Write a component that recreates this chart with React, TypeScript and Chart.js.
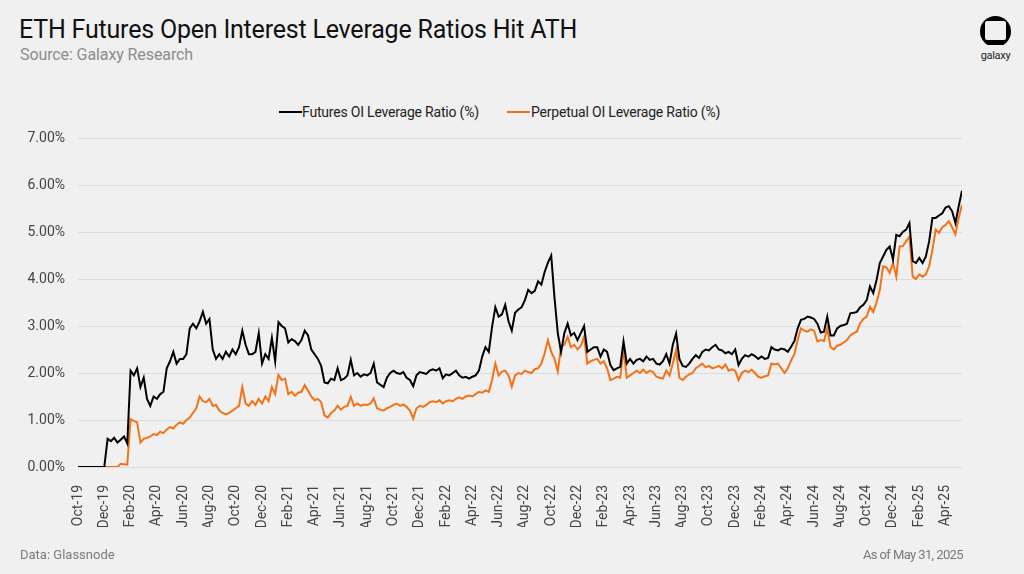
import React, { useEffect, useRef } from "react";
import { Chart, registerables } from "chart.js";

Chart.register(...registerables);

// x positions are months since Oct 1, 2019; one sample every quarter month (~weekly)
const SAMPLE_STEP_MONTHS = 0.25;
const TICK_STEP_MONTHS = 2;

const TICK_LABELS = [
  "Oct-19", "Dec-19", "Feb-20", "Apr-20", "Jun-20", "Aug-20", "Oct-20", "Dec-20",
  "Feb-21", "Apr-21", "Jun-21", "Aug-21", "Oct-21", "Dec-21", "Feb-22", "Apr-22",
  "Jun-22", "Aug-22", "Oct-22", "Dec-22", "Feb-23", "Apr-23", "Jun-23", "Aug-23",
  "Oct-23", "Dec-23", "Feb-24", "Apr-24", "Jun-24", "Aug-24", "Oct-24", "Dec-24",
  "Feb-25", "Apr-25",
];

const Y_TICKS = [0, 1, 2, 3, 4, 5, 6, 7];

const SERIES_NAMES = ["Futures OI Leverage Ratio (%)", "Perpetual OI Leverage Ratio (%)"];

// Futures OI leverage ratio (%), one row per month starting Oct-19
const FUTURES = [
  0, 0, 0, 0,
  0, 0, 0, 0,
  0, 0.6, 0.55, 0.62,
  0.52, 0.58, 0.65, 0.5,
  2.05, 1.95, 2.1, 1.7,
  1.9, 1.45, 1.3, 1.5,
  1.45, 1.55, 1.6, 2.1,
  2.25, 2.45, 2.2, 2.3,
  2.3, 2.4, 2.95, 3.05,
  2.95, 3.1, 3.3, 3.05,
  3.15, 2.5, 2.3, 2.4,
  2.3, 2.45, 2.35, 2.5,
  2.4, 2.55, 2.9, 2.6,
  2.4, 2.4, 2.45, 2.85,
  2.2, 2.4, 2.3, 2.75,
  2.25, 3.08, 3.0, 2.95,
  2.65, 2.72, 2.68, 2.6,
  2.7, 2.9, 2.8, 2.5,
  2.4, 2.3, 2.15, 1.8,
  1.78, 1.88, 1.85, 2.1,
  1.85, 1.88, 1.95, 2.28,
  1.95, 2.0, 1.92, 1.97,
  1.95, 2.0, 2.2, 1.8,
  1.75, 1.7, 1.9, 2.0,
  2.05, 2.0, 1.98, 2.02,
  1.9, 1.85, 1.72, 1.95,
  2.02, 2.0, 1.98, 2.05,
  2.08, 2.05, 2.1, 1.89,
  1.97, 1.95, 2.0, 2.05,
  1.95, 1.9, 1.92, 1.88,
  1.92, 1.95, 2.05, 2.35,
  2.55, 2.45, 2.98, 3.4,
  3.2, 3.25, 3.45, 3.1,
  2.9, 3.28, 3.35, 3.4,
  3.55, 3.77, 3.7, 3.75,
  3.95, 3.88, 4.15, 4.35,
  4.5, 3.6, 2.85, 2.45,
  2.85, 3.05, 2.8, 2.85,
  2.7, 2.85, 3.0, 2.45,
  2.5, 2.55, 2.55, 2.35,
  2.5, 2.45, 2.17, 2.06,
  2.1, 2.13, 2.67, 2.2,
  2.3, 2.2, 2.28, 2.3,
  2.25, 2.35, 2.28, 2.3,
  2.2, 2.18, 2.25, 2.4,
  2.2, 2.6, 2.84, 2.3,
  2.15, 2.13, 2.2, 2.3,
  2.38, 2.32, 2.45, 2.5,
  2.48, 2.55, 2.6, 2.5,
  2.48, 2.42, 2.45, 2.4,
  2.5, 2.17, 2.3, 2.38,
  2.35, 2.4, 2.36, 2.3,
  2.35, 2.3, 2.32, 2.55,
  2.5, 2.48, 2.52, 2.5,
  2.45, 2.56, 2.68, 2.95,
  3.13, 3.15, 3.2, 3.18,
  3.15, 3.05, 2.86, 2.88,
  3.2, 2.8, 2.8, 2.95,
  3.0, 3.02, 3.05, 3.27,
  3.28, 3.3, 3.4, 3.45,
  3.55, 3.84, 3.7, 3.98,
  4.34, 4.48, 4.62, 4.69,
  4.41, 4.94, 4.91, 5.0,
  5.05, 5.19, 4.38, 4.34,
  4.45, 4.34, 4.48, 4.8,
  5.3, 5.3, 5.35, 5.4,
  5.52, 5.55, 5.44, 5.19,
  5.55, 5.88,
];

// Perpetual OI leverage ratio (%), one row per month starting Oct-19
const PERPETUAL = [
  0, 0, 0, 0,
  0, 0, 0, 0,
  0, 0, 0, 0,
  0, 0.07, 0.06, 0.05,
  1.02, 0.98, 0.95, 0.52,
  0.6, 0.62, 0.65, 0.7,
  0.68, 0.75, 0.72, 0.8,
  0.85, 0.82, 0.9, 0.95,
  0.92, 1.0, 1.05, 1.15,
  1.25, 1.5, 1.4, 1.38,
  1.45, 1.3, 1.32, 1.2,
  1.15, 1.12, 1.15, 1.2,
  1.25, 1.3, 1.7, 1.35,
  1.3, 1.4, 1.32, 1.45,
  1.35, 1.5, 1.4, 1.7,
  1.55, 1.96, 1.85, 1.88,
  1.55, 1.6, 1.52, 1.58,
  1.6, 1.74, 1.62, 1.5,
  1.42, 1.45, 1.38, 1.1,
  1.05, 1.15, 1.2, 1.3,
  1.22, 1.28, 1.3, 1.49,
  1.3, 1.35, 1.3, 1.33,
  1.32, 1.35, 1.46, 1.25,
  1.22, 1.2, 1.25, 1.28,
  1.32, 1.35, 1.3, 1.33,
  1.28, 1.2, 1.03, 1.25,
  1.3, 1.28, 1.32, 1.38,
  1.4, 1.38, 1.42, 1.35,
  1.4, 1.42, 1.4, 1.45,
  1.48, 1.45, 1.5, 1.52,
  1.5, 1.55, 1.6, 1.58,
  1.63, 1.6, 1.85, 2.2,
  1.95, 2.03, 2.05, 1.95,
  1.71, 1.95, 2.0, 1.98,
  2.05, 2.02, 2.0, 2.08,
  2.1, 2.2, 2.42, 2.7,
  2.45, 2.3, 2.03, 2.56,
  2.6, 2.77, 2.55, 2.6,
  2.5, 2.58, 2.77, 2.2,
  2.25, 2.28, 2.3, 2.2,
  2.25, 2.1, 1.85, 1.88,
  1.92, 1.9, 2.49, 1.9,
  1.95, 2.0, 2.05, 2.0,
  2.07, 2.0, 2.05, 2.02,
  1.92, 1.9, 1.88, 2.05,
  1.95, 2.2, 2.49, 1.9,
  1.85, 1.92, 1.97, 2.0,
  2.1, 2.15, 2.2, 2.12,
  2.15, 2.1, 2.12, 2.15,
  2.1, 2.18, 2.05, 2.08,
  2.05, 1.85, 2.0, 2.05,
  2.02, 2.07, 2.0, 1.92,
  1.9, 1.93, 1.95, 2.2,
  2.18, 2.2, 2.1, 2.0,
  2.1, 2.27, 2.4, 2.7,
  2.95, 2.9, 2.88, 2.93,
  2.9, 2.67, 2.7, 2.68,
  2.95, 2.55, 2.5, 2.58,
  2.6, 2.65, 2.7, 2.8,
  2.85, 2.88, 3.06, 3.15,
  3.2, 3.41, 3.3, 3.5,
  3.77, 4.27, 4.25, 4.13,
  4.34, 4.05, 4.69, 4.7,
  4.8, 4.9, 4.05, 4.0,
  4.1, 4.05, 4.1, 4.27,
  4.62, 5.05, 4.98, 5.1,
  5.15, 5.23, 5.1, 4.95,
  5.3, 5.58,
];

const BLACK = "#000000";
const ORANGE = "#F47216";
const BG = "#F0F0F0";
const FONT = "Roboto, 'Noto Sans', sans-serif";

function toPoints(values: number[]) {
  return values.map((v, i) => ({ x: i * SAMPLE_STEP_MONTHS, y: v }));
}

export default function App() {
  const canvasRef = useRef<HTMLCanvasElement | null>(null);

  useEffect(() => {
    const canvas = canvasRef.current;
    if (!canvas) return;
    const chart = new Chart(canvas, {
      type: "line",
      data: {
        datasets: [
          {
            label: SERIES_NAMES[0],
            data: toPoints(FUTURES),
            borderColor: BLACK,
            backgroundColor: BLACK,
            borderWidth: 2,
            pointRadius: 0,
            tension: 0,
          },
          {
            label: SERIES_NAMES[1],
            data: toPoints(PERPETUAL),
            borderColor: ORANGE,
            backgroundColor: ORANGE,
            borderWidth: 2,
            pointRadius: 0,
            tension: 0,
          },
        ],
      },
      options: {
        animation: false,
        responsive: false,
        maintainAspectRatio: false,
        layout: { padding: { top: 138, right: 62, bottom: 47, left: 0 } },
        plugins: { legend: { display: false }, tooltip: { enabled: false } },
        scales: {
          x: {
            type: "linear",
            min: 0,
            max: (FUTURES.length - 1) * SAMPLE_STEP_MONTHS,
            afterBuildTicks: (s: any) => {
              s.ticks = TICK_LABELS.map((_, i) => ({ value: i * TICK_STEP_MONTHS }));
            },
            afterFit: (s: any) => {
              s.height = 60;
            },
            grid: { display: false },
            border: { display: false },
            ticks: {
              autoSkip: false,
              minRotation: 90,
              maxRotation: 90,
              padding: 10,
              color: "#444444",
              font: { size: 14, family: FONT },
              callback: (_v: any, i: number) => TICK_LABELS[i] ?? "",
            },
          },
          y: {
            type: "linear",
            min: 0,
            max: 7,
            afterBuildTicks: (s: any) => {
              s.ticks = Y_TICKS.map((v) => ({ value: v }));
            },
            afterFit: (s: any) => {
              s.width = 78;
            },
            grid: { color: "#DCDCDC", lineWidth: 1, drawTicks: false },
            border: { display: false },
            ticks: {
              padding: 13,
              color: "#444444",
              font: { size: 14, family: FONT },
              callback: (v: any) => Number(v).toFixed(2) + "%",
            },
          },
        },
      },
    });
    return () => chart.destroy();
  }, []);

  const text = (style: React.CSSProperties, content: string) => (
    <div style={{ position: "absolute", whiteSpace: "nowrap", fontFamily: FONT, ...style }}>{content}</div>
  );

  return (
    <div
      style={{
        position: "fixed",
        left: 0,
        top: 0,
        width: 1024,
        height: 574,
        background: BG,
        overflow: "hidden",
      }}
    >
      {text(
        { left: 19, top: 17, fontSize: 25, lineHeight: "25px", color: "#111", letterSpacing: "-0.2px" },
        "ETH Futures Open Interest Leverage Ratios Hit ATH"
      )}
      {text(
        { left: 20, top: 47, fontSize: 16, lineHeight: "16px", color: "#8C8C8C", letterSpacing: "-0.1px" },
        "Source: Galaxy Research"
      )}

      {/* logo */}
      <div style={{ position: "absolute", left: 980, top: 16, width: 31, height: 29, overflow: "hidden" }}>
        <div style={{ position: "absolute", left: 0, top: 0, width: 31, height: 31, borderRadius: "50%", background: "#000" }} />
        <div
          style={{
            position: "absolute",
            left: 5,
            top: 5,
            width: 21,
            height: 18.5,
            borderRadius: 2,
            background: BG,
          }}
        />
      </div>
      {text(
        { left: 975, top: 50, width: 41, textAlign: "center", fontSize: 11, lineHeight: "11px", color: "#222", letterSpacing: "-0.3px" },
        "galaxy"
      )}

      {/* legend */}
      <div style={{ position: "absolute", left: 279, top: 110.5, width: 23, height: 2, background: BLACK }} />
      {text(
        { left: 302, top: 105, fontSize: 14, lineHeight: "14px", color: "#222", letterSpacing: "-0.2px" },
        SERIES_NAMES[0]
      )}
      <div style={{ position: "absolute", left: 507, top: 110.5, width: 23, height: 2, background: ORANGE }} />
      {text(
        { left: 531, top: 105, fontSize: 14, lineHeight: "14px", color: "#222", letterSpacing: "-0.2px" },
        SERIES_NAMES[1]
      )}

      <canvas
        ref={canvasRef}
        width={1024}
        height={574}
        style={{ position: "absolute", left: 0, top: 0, width: 1024, height: 574 }}
      />

      {text(
        { left: 20, top: 548, fontSize: 13, lineHeight: "14px", color: "#7A7A7A", letterSpacing: "0px" },
        "Data: Glassnode"
      )}
      {text(
        { right: 61, top: 548, fontSize: 13, lineHeight: "14px", color: "#7A7A7A", letterSpacing: "-0.6px" },
        "As of May 31, 2025"
      )}
    </div>
  );
}
